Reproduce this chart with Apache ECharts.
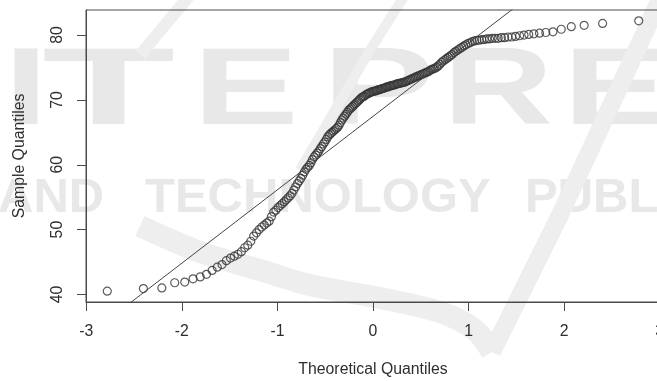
<!DOCTYPE html>
<html>
<head>
<meta charset="utf-8">
<script src="https://cdn.jsdelivr.net/npm/echarts@6/dist/echarts.min.js"></script>
<style>
  html, body { margin: 0; padding: 0; background: #ffffff; }
  #chart { width: 657px; height: 381px; }
</style>
</head>
<body>
<div id="chart"></div>
<script>
// Sorted sample values (n = 184) of the normal Q-Q plot
const sampleQuantiles = [
  40.5, 40.9, 41.0, 41.8, 41.9, 42.4, 42.7, 43.1, 43.7, 44.2,
  44.6, 45.2, 45.6, 45.9, 46.2, 46.6, 47.2, 47.6, 48.2, 49.0,
  49.5, 50.0, 50.4, 50.7, 51.0, 51.3, 52.0, 52.7, 53.0, 53.4,
  53.7, 54.0, 54.3, 54.6, 54.9, 55.2, 55.6, 56.1, 56.6, 57.1,
  57.5, 57.9, 58.4, 58.9, 59.3, 59.6, 59.9, 60.3, 60.8, 61.2,
  61.5, 61.8, 62.1, 62.5, 62.8, 63.2, 63.5, 63.9, 64.3, 64.6,
  64.8, 65.0, 65.2, 65.4, 65.6, 65.8, 66.1, 66.5, 66.9, 67.2,
  67.5, 67.8, 68.1, 68.4, 68.6, 68.8, 69.0, 69.2, 69.4, 69.6,
  69.8, 70.0, 70.2, 70.4, 70.5, 70.6, 70.8, 70.9, 71.0, 71.1,
  71.2, 71.3, 71.3, 71.4, 71.4, 71.5, 71.6, 71.6, 71.7, 71.8,
  71.8, 71.9, 72.0, 72.0, 72.1, 72.2, 72.2, 72.3, 72.3, 72.4,
  72.5, 72.5, 72.6, 72.6, 72.7, 72.7, 72.8, 72.9, 73.0, 73.1,
  73.2, 73.3, 73.4, 73.5, 73.6, 73.7, 73.8, 73.9, 74.0, 74.1,
  74.2, 74.3, 74.4, 74.6, 74.7, 74.8, 74.9, 75.05, 75.25, 75.5,
  75.8, 76.0, 76.2, 76.4, 76.6, 76.8, 77.0, 77.3, 77.5, 77.7,
  77.9, 78.1, 78.3, 78.5, 78.7, 78.8, 79.0, 79.1, 79.2, 79.2,
  79.3, 79.3, 79.4, 79.4, 79.5, 79.5, 79.5, 79.6, 79.6, 79.7,
  79.7, 79.8, 79.9, 80.0, 80.1, 80.2, 80.3, 80.4, 80.5, 80.9,
  81.3, 81.5, 81.8, 82.2
];
const xTickValues = [-3, -2, -1, 0, 1, 2, 3];
const yTickValues = [40, 50, 60, 70, 80];
const xTitle = 'Theoretical Quantiles';
const yTitle = 'Sample Quantiles';

// Inverse standard normal CDF (Acklam's rational approximation)
function qnorm(p) {
  const a = [-3.969683028665376e+01, 2.209460984245205e+02, -2.759285104469687e+02,
             1.383577518672690e+02, -3.066479806614716e+01, 2.506628277459239e+00];
  const b = [-5.447609879822406e+01, 1.615858368580409e+02, -1.556989798598866e+02,
             6.680131188771972e+01, -1.328068155288572e+01];
  const c = [-7.784894002430293e-03, -3.223964580411365e-01, -2.400758277161838e+00,
             -2.549732539343734e+00, 4.374664141464968e+00, 2.938163982698783e+00];
  const d = [7.784695709041462e-03, 3.224671290700398e-01, 2.445134137142996e+00,
             3.754408661907416e+00];
  const plow = 0.02425;
  if (p < plow) {
    const q = Math.sqrt(-2 * Math.log(p));
    return (((((c[0]*q+c[1])*q+c[2])*q+c[3])*q+c[4])*q+c[5]) /
           ((((d[0]*q+d[1])*q+d[2])*q+d[3])*q+1);
  }
  if (p > 1 - plow) {
    const q = Math.sqrt(-2 * Math.log(1 - p));
    return -(((((c[0]*q+c[1])*q+c[2])*q+c[3])*q+c[4])*q+c[5]) /
            ((((d[0]*q+d[1])*q+d[2])*q+d[3])*q+1);
  }
  const q = p - 0.5, r = q * q;
  return (((((a[0]*r+a[1])*r+a[2])*r+a[3])*r+a[4])*r+a[5])*q /
         (((((b[0]*r+b[1])*r+b[2])*r+b[3])*r+b[4])*r+1);
}

// Plotting positions as used by qqnorm
function ppoint(i, n) {
  const a = n <= 10 ? 3 / 8 : 0.5;
  return (i + 1 - a) / (n + 1 - 2 * a);
}

// Sample quantile, type 7
function quantile(sorted, prob) {
  const h = (sorted.length - 1) * prob;
  const lo = Math.floor(h);
  return sorted[lo] + (h - lo) * ((sorted[lo + 1] ?? sorted[lo]) - sorted[lo]);
}

const n = sampleQuantiles.length;
const theoretical = sampleQuantiles.map((_, i) => qnorm(ppoint(i, n)));
const points = sampleQuantiles.map((v, i) => [theoretical[i], v]);

// Reference line through the first and third quartiles
const zq1 = qnorm(0.25), zq3 = qnorm(0.75);
const sq1 = quantile(sampleQuantiles, 0.25), sq3 = quantile(sampleQuantiles, 0.75);
const slope = (sq3 - sq1) / (zq3 - zq1);
const intercept = sq1 - slope * zq1;

// Axis ranges padded by 4% on each side
function padded(lo, hi) { const r = hi - lo; return [lo - 0.04 * r, hi + 0.04 * r]; }
const xRange = padded(theoretical[0], theoretical[n - 1]);
const yRange = padded(sampleQuantiles[0], sampleQuantiles[n - 1]);

const lineData = [
  [xRange[0], intercept + slope * xRange[0]],
  [xRange[1], intercept + slope * xRange[1]]
];

const FONT = '"Liberation Sans", Arial, Helvetica, sans-serif';
const TEXT = '#2e2e2e';
const AXIS = '#4a4a4a';
const MARK = '#e8e8e8';
const SWOOSH = '#eeeeee';

// Faint publisher watermark behind the plot
const bigLetters = [
  { t: 'I', x: 4, s: 1.45 }, { t: 'T', x: 42, s: 2.0 }, { t: 'E', x: 193, s: 1.45 },
  { t: 'P', x: 322, s: 1.55 }, { t: 'R', x: 443, s: 1.4 }, { t: 'E', x: 563, s: 1.45 }
];
const watermark = [];
bigLetters.forEach(l => watermark.push({
  type: 'text', x: l.x, y: 94, scaleX: l.s, z: -10, silent: true,
  style: { text: l.t, fill: MARK, font: 'bold 109px ' + FONT, align: 'left', verticalAlign: 'middle' }
}));
[{ t: 'AND', x: -2 }, { t: 'TECHNOLOGY', x: 145 }, { t: 'PUBLICATIONS', x: 525 }].forEach(w => watermark.push({
  type: 'text', x: w.x, y: 198, z: -10, silent: true,
  style: { text: w.t, fill: MARK, font: 'bold 49px ' + FONT, align: 'left', verticalAlign: 'middle' }
}));
watermark.push(
  { type: 'polyline', z: -10, silent: true,
    shape: { points: [[405, -5], [370, 50], [335, 110], [300, 170]] },
    style: { stroke: SWOOSH, lineWidth: 10, fill: null } },
  { type: 'polyline', z: -10, silent: true,
    shape: { points: [[190, -5], [140, 55]] },
    style: { stroke: SWOOSH, lineWidth: 12, fill: null } },
  { type: 'polyline', z: -10, silent: true,
    shape: { points: [[140, 226], [200, 252], [260, 270], [310, 285], [380, 298], [440, 312], [475, 330], [492, 352]], smooth: 0.3 },
    style: { stroke: SWOOSH, lineWidth: 22, fill: null, lineCap: 'butt', lineJoin: 'round' } },
  { type: 'polyline', z: -10, silent: true,
    shape: { points: [[492, 352], [560, 215], [625, 75], [662, -5]] },
    style: { stroke: SWOOSH, lineWidth: 18, fill: null, lineJoin: 'round' } }
);

const chart = echarts.init(document.getElementById('chart'), null, { renderer: 'canvas' });
chart.setOption({
  animation: false,
  backgroundColor: '#ffffff',
  graphic: { elements: watermark },
  grid: {
    left: 86, right: -3, top: 10, bottom: 79,
    containLabel: false, outerBoundsMode: 'none',
    show: true, borderColor: AXIS, borderWidth: 1, backgroundColor: 'transparent'
  },
  xAxis: {
    type: 'value', min: xRange[0], max: xRange[1],
    name: xTitle, nameLocation: 'middle', nameGap: 60,
    nameTextStyle: { color: TEXT, fontSize: 15.8, fontFamily: FONT },
    axisLine: { show: true, onZero: false, lineStyle: { color: AXIS, width: 1 } },
    axisTick: { show: true, inside: false, length: 9, customValues: xTickValues, lineStyle: { color: AXIS, width: 1 } },
    axisLabel: { show: true, margin: 22, customValues: xTickValues, color: TEXT, fontSize: 15.8, fontFamily: FONT },
    splitLine: { show: false }
  },
  yAxis: {
    type: 'value', min: yRange[0], max: yRange[1],
    name: yTitle, nameLocation: 'middle', nameGap: 58, nameRotate: 90,
    nameTextStyle: { color: TEXT, fontSize: 15.8, fontFamily: FONT },
    axisLine: { show: true, onZero: false, lineStyle: { color: AXIS, width: 1 } },
    axisTick: { show: true, inside: false, length: 9, customValues: yTickValues, lineStyle: { color: AXIS, width: 1 } },
    axisLabel: { show: true, rotate: 90, margin: 20, customValues: yTickValues, color: TEXT, fontSize: 15.8, fontFamily: FONT },
    splitLine: { show: false }
  },
  series: [
    {
      type: 'scatter',
      data: points,
      symbol: 'circle',
      symbolSize: 8,
      itemStyle: { color: 'rgba(0,0,0,0)', borderColor: '#333333', borderWidth: 1.2 },
      emphasis: { disabled: true },
      z: 3
    },
    {
      type: 'line',
      data: lineData,
      showSymbol: false,
      symbol: 'none',
      clip: true,
      lineStyle: { color: '#444444', width: 1 },
      emphasis: { disabled: true },
      z: 4
    }
  ]
});
</script>
</body>
</html>
